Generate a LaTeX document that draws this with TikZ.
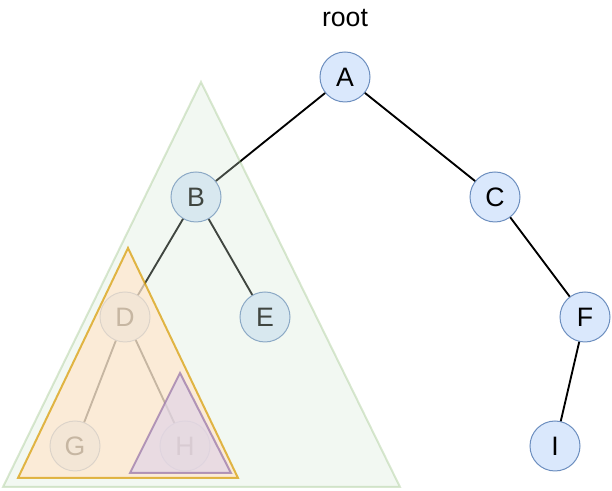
\documentclass[tikz,border=0pt]{standalone}
\usepackage{fontspec}
\setmainfont{Liberation Sans}
\definecolor{nodefill}{HTML}{DAE8FC}
\definecolor{nodeline}{HTML}{6C8EBF}
\definecolor{gfill}{HTML}{D5E8D4}
\definecolor{gline}{HTML}{82B366}
\definecolor{ofill}{HTML}{FFE6CC}
\definecolor{oline}{HTML}{D79B00}
\definecolor{pfill}{HTML}{E1D5E7}
\definecolor{pline}{HTML}{9673A6}
\tikzset{
  treenode/.style={circle, draw=nodeline, fill=nodefill, line width=0.75pt, minimum size=37.5pt, inner sep=0pt, font=\fontsize{20}{23}\selectfont},
  edge/.style={draw=black, line width=1.4pt},
  greentri/.style={fill=gfill, draw=gline, line width=1.5pt, opacity=0.3, line join=miter},
  orangetri/.style={fill=ofill, draw=oline, line width=1.5pt, opacity=0.7, line join=miter},
  purpletri/.style={fill=pfill, draw=pline, line width=1.5pt, opacity=0.7, line join=miter},
  label/.style={font=\fontsize{20}{23}\selectfont}
}
\begin{document}
\begin{tikzpicture}[x=0.75pt,y=-0.75pt]
\useasboundingbox (0,0) rectangle (612,491);
\node[label] (root) at (345,18) {root};
\node[treenode] (A) at (345,77) {A};
\node[treenode] (B) at (196,197) {B};
\node[treenode] (C) at (495,197) {C};
\node[treenode] (D) at (125,317) {D};
\node[treenode] (E) at (265,317) {E};
\node[treenode] (F) at (585,317) {F};
\node[treenode] (G) at (75,446) {G};
\node[treenode] (H) at (185,446) {H};
\node[treenode] (I) at (555,446) {I};
\draw[edge] (A) -- (B);
\draw[edge] (A) -- (C);
\draw[edge] (B) -- (D);
\draw[edge] (B) -- (E);
\draw[edge] (C) -- (F);
\draw[edge] (D) -- (G);
\draw[edge] (D) -- (H);
\draw[edge] (F) -- (I);
\coordinate (g1) at (201,82);
\coordinate (g2) at (3,487);
\coordinate (g3) at (400,487);
\coordinate (o1) at (128,248);
\coordinate (o2) at (18,478);
\coordinate (o3) at (238,478);
\coordinate (p1) at (180,373);
\coordinate (p2) at (130,473);
\coordinate (p3) at (231,473);
\path[greentri] (g1) -- (g2) -- (g3) -- cycle;
\path[orangetri] (o1) -- (o2) -- (o3) -- cycle;
\path[purpletri] (p1) -- (p2) -- (p3) -- cycle;
\end{tikzpicture}
\end{document}
